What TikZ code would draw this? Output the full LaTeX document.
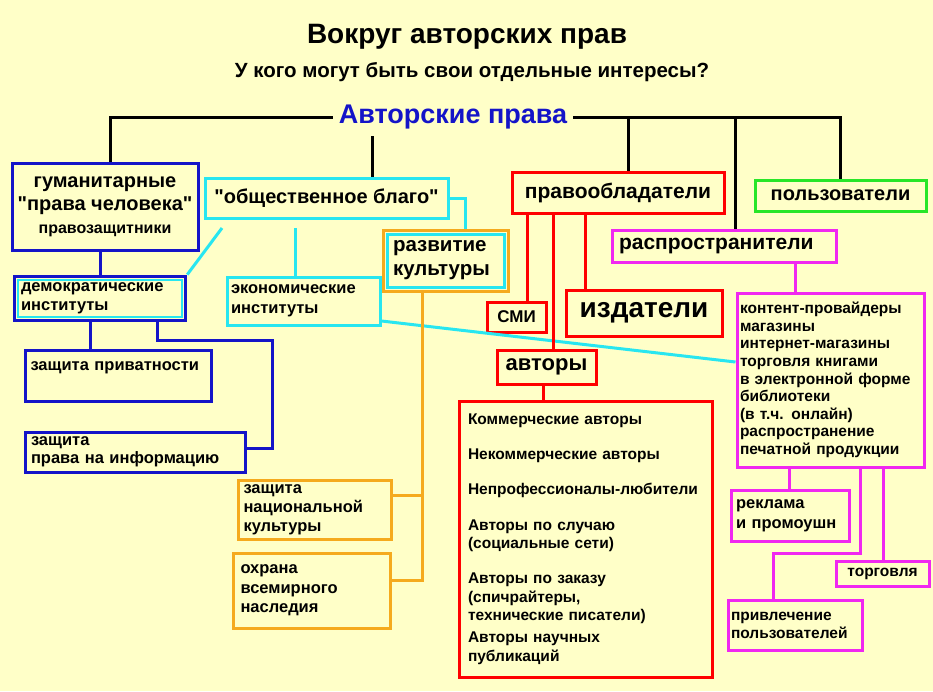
\documentclass[tikz,border=0pt]{standalone}
\usepackage{fontspec}
\setmainfont{Liberation Sans}
\newfontfamily\quotefont{Liberation Sans}
\usetikzlibrary{fit}
\definecolor{bg}{RGB}{255,255,200}
\definecolor{cyanl}{RGB}{40,230,240}
\definecolor{orng}{RGB}{245,170,30}
\definecolor{magn}{RGB}{240,40,240}
\definecolor{grn}{RGB}{40,230,40}
\definecolor{dblue}{RGB}{20,20,200}
\newcommand{\qq}{{\quotefont\bfseries"}}
\begin{document}
\begin{tikzpicture}[
		x=1pt, y=-1pt,
		font=\bfseries,
		every node/.style={inner sep=0pt},
		box/.style={draw, line width=3pt, align=left, inner sep=4pt},
		blue box/.style={box, draw=dblue},
		cyan box/.style={box, draw=cyanl},
		red box/.style={box, draw=red},
		orange box/.style={box, draw=orng},
		magenta box/.style={box, draw=magn},
		green box/.style={box, draw=grn},
		link/.style={line width=3pt},
		blue link/.style={link, dblue},
		cyan link/.style={link, cyanl},
		red link/.style={link, red},
		orange link/.style={link, orng},
		magenta link/.style={link, magn}
	]
		\fill[bg] (0,0) rectangle (933,691);
		\useasboundingbox (0,0) rectangle (933,691);

		\node[font=\bfseries\fontsize{28}{32}\selectfont] (title) at (467,37) {Вокруг авторских прав};
		\node[font=\bfseries\fontsize{20.5}{24}\selectfont] (sub) at (472,72) {У кого могут быть свои отдельные интересы?};
		\node[font=\bfseries\fontsize{27}{30}\selectfont, text=dblue, fill=bg, inner xsep=6pt] (root) at (453,117) {Авторские права};

		% top level
		\node[blue box, minimum width=186, minimum height=87, align=center, font=\bfseries\fontsize{20}{23}\selectfont] (hum) at (105,206.5)
			{гуманитарные\\\qq права человека\qq\\{\fontsize{16}{20}\selectfont правозащитники}};
		\node[cyan box, minimum width=243, minimum height=40, font=\bfseries\fontsize{20}{23}\selectfont] (pub) at (326.5,198) {\qq общественное благо\qq};
		\node[red box, minimum width=212, minimum height=41, font=\bfseries\fontsize{21}{24}\selectfont] (own) at (618,192.5) {правообладатели};
		\node[green box, minimum width=171, minimum height=31, font=\bfseries\fontsize{20}{23}\selectfont] (usr) at (840.5,195.5) {пользователи};
		\node[magenta box, minimum width=224, minimum height=32, font=\bfseries\fontsize{21}{24}\selectfont, text width=210] (dist) at (724,246) {распространители};

		% second level
		\node[cyan box, minimum width=117, minimum height=53, text width=105, font=\bfseries\fontsize{20.5}{24}\selectfont] (cult) at (445.5,260.5) {развитие\\культуры};
		\node[orange box, fit=(cult), inner sep=2.5pt] (cultout) {};
		\node[cyan box, minimum width=164, minimum height=37, text width=158, inner sep=3pt, line width=2.5pt, font=\bfseries\fontsize{16.5}{19}\selectfont] (dem) at (100,298.5) {демократические\\институты};
		\node[blue box, fit=(dem), inner sep=2.5pt] (demout) {};
		\node[cyan box, minimum width=153, minimum height=48, text width=145, font=\bfseries\fontsize{16.5}{20}\selectfont] (eco) at (303.5,301) {экономические\\институты};
		\node[red box, minimum width=59, minimum height=30, align=center, font=\bfseries\fontsize{17}{20}\selectfont] (smi) at (516.5,317) {СМИ};
		\node[red box, minimum width=156, minimum height=46, align=center, font=\bfseries\fontsize{28}{32}\selectfont] (pubr) at (644,313) {издатели};
		\node[red box, minimum width=99, minimum height=34, align=center, font=\bfseries\fontsize{22}{25}\selectfont] (auth) at (546.5,367) {авторы};
		\node[magenta box, minimum width=187, minimum height=174, text width=181, inner sep=3pt, font=\bfseries\fontsize{15.5}{17.6}\selectfont] (cont) at (830.5,380)
			{контент-провайдеры\\магазины\\интернет-магазины\\торговля книгами\\в электронной форме\\библиотеки\\(в т.ч. онлайн)\\распространение\\печатной продукции};

		% lower level
		\node[blue box, minimum width=186, minimum height=51, text width=175, text depth=18pt, font=\bfseries\fontsize{16.5}{20}\selectfont] (priv) at (118,375.5) {защита приватности};
		\node[blue box, minimum width=220, minimum height=40, text width=208, font=\bfseries\fontsize{16.5}{18}\selectfont] (info) at (135,452) {защита\\права на информацию};
		\node[orange box, minimum width=153, minimum height=58, text width=142, font=\bfseries\fontsize{16.5}{19}\selectfont] (nat) at (314.5,510) {защита\\национальной\\культуры};
		\node[orange box, minimum width=157, minimum height=75, text width=142, font=\bfseries\fontsize{16.5}{19.5}\selectfont] (her) at (311.5,590.5) {охрана\\всемирного\\наследия};
		\node[red box, minimum width=253, minimum height=276, text width=235, inner sep=8pt, font=\bfseries\fontsize{15.5}{18.3}\selectfont] (list) at (585.5,539)
			{Коммерческие авторы\\[17pt]Некоммерческие авторы\\[17pt]Непрофессионалы-любители\\[17pt]Авторы по случаю\\(социальные сети)\\[17pt]Авторы по заказу\\(спичрайтеры,\\технические писатели)\\[4pt]Авторы научных\\публикаций};
		\node[magenta box, minimum width=118, minimum height=51, text width=108, font=\bfseries\fontsize{16.5}{20}\selectfont] (adv) at (790,515.5) {реклама\\и промоушн};
		\node[magenta box, minimum width=93, minimum height=25, align=center, font=\bfseries\fontsize{15.5}{18}\selectfont] (trade) at (882.5,573.5) {торговля};
		\node[magenta box, minimum width=134, minimum height=50, text width=128, inner sep=3pt, font=\bfseries\fontsize{15.5}{18}\selectfont] (attr) at (795,625) {привлечение\\пользователей};

		% root tree
		\draw[link] (root.west) -- (110,117) -- (hum.north -| 110,0);
		\draw[link] (root.east) -- (840,117) -- (usr.north -| 840,0);
		\draw[link] (372,136) -- (pub.north -| 372,0);
		\draw[link] (628,117) -- (own.north -| 628,0);
		\draw[link] (735,117) -- (dist.north -| 735,0);

		% left branches
		\draw[blue link] (hum.south -| 100,0) -- (demout.north -| 100,0);
		\draw[cyan link] (222,228) -- (demout.north east);
		\draw[cyan link] (295,228) -- (eco.north -| 295,0);
		\draw[cyan link] (pub.east) -- (465,198) -- (cultout.north -| 465,0);
		\draw[cyan link] (eco.east |- 0,321) -- (cont.west |- 0,362);
		\draw[blue link] (demout.south -| 90,0) -- (priv.north -| 90,0);
		\draw[blue link] (demout.south -| 157,0) -- (157,340) -- (272,340) -- (272,448) -- (info.east |- 0,448);
		\draw[orange link] (cultout.south -| 422,0) -- (422,580) -- (her.east |- 0,580);
		\draw[orange link] (422,495) -- (nat.east |- 0,495);

		% right branches
		\draw[red link] (own.south -| 527,0) -- (smi.north -| 527,0);
		\draw[red link] (own.south -| 553,0) -- (auth.north -| 553,0);
		\draw[red link] (own.south -| 585,0) -- (pubr.north -| 585,0);
		\draw[red link] (auth.south -| 543,0) -- (list.north -| 543,0);
		\draw[magenta link] (dist.south -| 795,0) -- (cont.north -| 795,0);
		\draw[magenta link] (cont.south -| 789,0) -- (adv.north -| 789,0);
		\draw[magenta link] (cont.south -| 883,0) -- (trade.north -| 883,0);
		\draw[magenta link] (cont.south -| 860,0) -- (860,553) -- (773,553) -- (attr.north -| 773,0);
	\end{tikzpicture}
\end{document}
